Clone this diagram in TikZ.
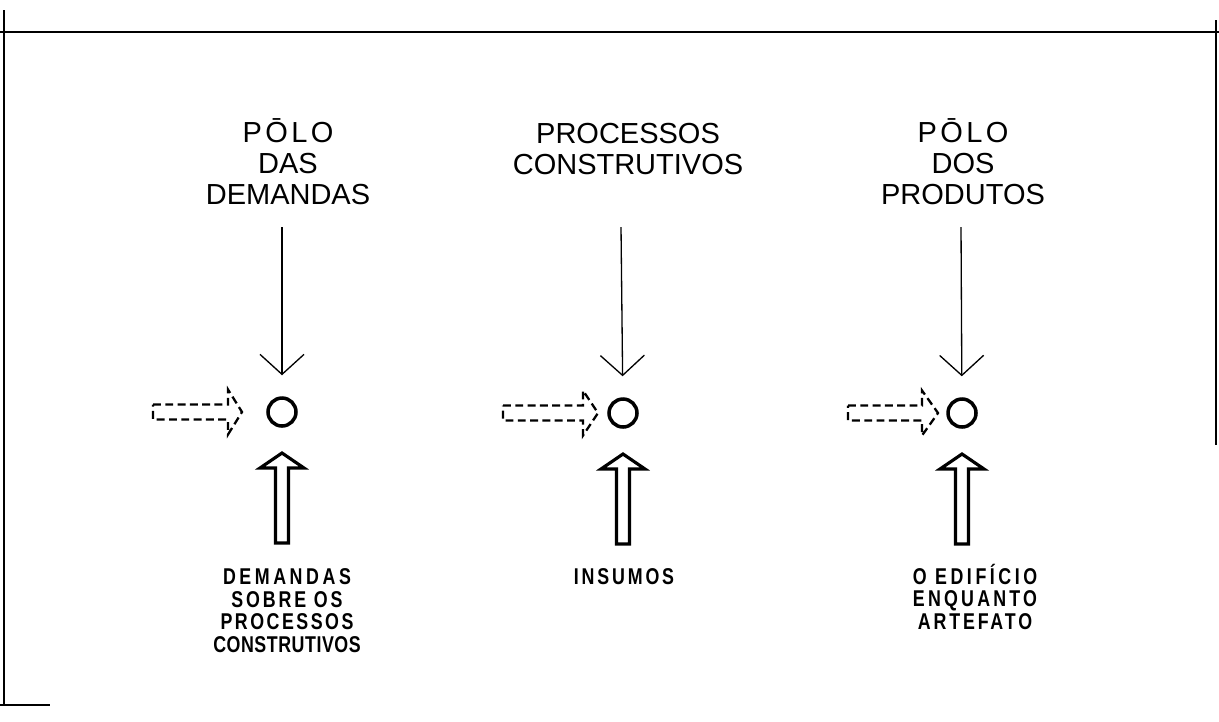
\documentclass[tikz,border=0pt]{standalone}
\usepackage{fontspec}
\setmainfont{Liberation Sans}
\usepackage{tikz}
\usetikzlibrary{arrows.meta, positioning}

\begin{document}
\begin{tikzpicture}[
    x=0.02cm, y=-0.02cm,
    >=Latex,
    % Text Styles
    polo/.style={align=center, inner sep=0pt, anchor=south, font=\fontsize{16.5}{17.6}\selectfont},
    saida/.style={align=center, inner sep=0pt, anchor=south, xscale=0.78, transform shape,
                  font=\fontsize{13}{12.8}\selectfont\bfseries\addfontfeatures{LetterSpace=16}},
    ponto/.style={circle, draw, line width=2pt, minimum size=0.56cm, inner sep=0pt},
    % Arrow Styles
    feed/.style={-{Straight Barb[length=0.4cm, width=0.88cm]}, line width=0.75pt, shorten >=0.42cm},
    inflow/.style={dash pattern=on 4.5pt off 2.5pt, line width=1.3pt, line join=miter},
    bigarrow/.style={line width=1.8pt, line join=miter},
    frame/.style={line width=1.4pt}
]
    \useasboundingbox (0,0) rectangle (1219,721);

    % =========================================================================
    % FRAME
    % =========================================================================
    \draw[frame] (0,32) -- (1219,32);
    \draw[line width=0.8pt] (4,10) -- (4,705);
    \draw[line width=0.9pt] (1216,20) -- (1216,445);
    \draw[line width=0.8pt] (0,705) -- (50,705);

    % =========================================================================
    % 1. LEFT: DEMANDAS
    % =========================================================================
    \node (lbl_dem) [polo] at (288,205) {{\addfontfeatures{LetterSpace=12}PŌLO}\\DAS\\DEMANDAS};
    \node (pd_dem) [ponto] at (282,412) {};
    \coordinate (top_dem) at (282,227);
    \node (out_dem) [saida] at (287,653) {{\addfontfeatures{LetterSpace=20}DEMANDAS}\\SOBRE OS\\{\addfontfeatures{LetterSpace=14}PROCESSOS}\\{\addfontfeatures{LetterSpace=3}CONSTRUTIVOS}};

    % =========================================================================
    % 2. MIDDLE: PROCESSOS CONSTRUTIVOS
    % =========================================================================
    \node (lbl_proc) [polo] at (628,175) {PROCESSOS\\CONSTRUTIVOS};
    \node (pd_proc) [ponto] at (623,413) {};
    \coordinate (top_proc) at (621,227);
    \node (out_proc) [saida] at (624,585) {INSUMOS};

    % =========================================================================
    % 3. RIGHT: PRODUTOS
    % =========================================================================
    \node (lbl_prod) [polo] at (963,205) {{\addfontfeatures{LetterSpace=12}PŌLO}\\DOS\\PRODUTOS};
    \node (pd_prod) [ponto] at (962,413) {};
    \coordinate (top_prod) at (961,227);
    \node (out_prod) [saida] at (975,630) {{\addfontfeatures{LetterSpace=20}O EDIFÍCIO}\\{\addfontfeatures{LetterSpace=18}ENQUANTO}\\ARTEFATO};

    % =========================================================================
    % CONNECTIONS
    % =========================================================================
    \draw[feed] (top_dem) -- (pd_dem);
    \draw[feed] (top_proc) -- (pd_proc);
    \draw[feed] (top_prod) -- (pd_prod);

    % hollow arrows into each point
    \foreach \c/\a/\b/\t in {pd_dem/-129/-54/-40, pd_proc/-120/-40/-25, pd_prod/-114/-40/-24} {
      \begin{scope}[shift={(\c.center)}]
        \draw[inflow] (\a,-7.5) -- (\b,-7.5) -- (\b,-22.5) -- (\t,0) -- (\b,22.5) -- (\b,7.5) -- (\a,7.5) -- cycle;
        \draw[bigarrow] (-6.5,131) -- (-6.5,56) -- (-22,56) -- (0,41) -- (22,56) -- (6.5,56) -- (6.5,131) -- cycle;
      \end{scope}
    }

\end{tikzpicture}
\end{document}
